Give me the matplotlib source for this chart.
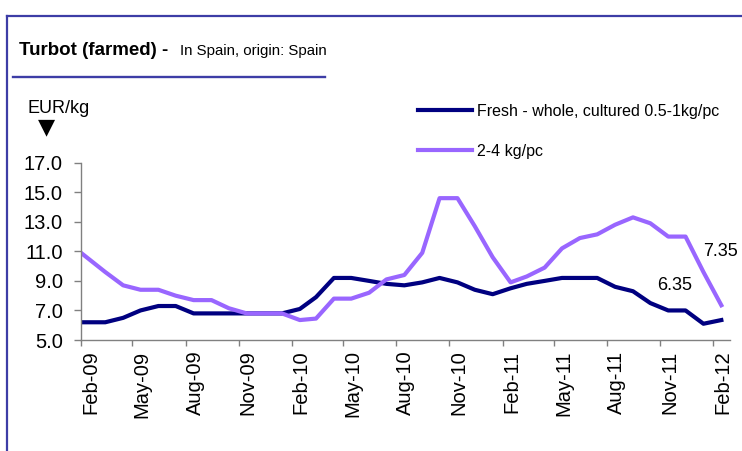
import numpy as np
import pandas as pd
import matplotlib
matplotlib.use('Agg')
import matplotlib.pyplot as plt
import matplotlib.dates as mdates
from matplotlib.lines import Line2D
from matplotlib.ticker import FormatStrFormatter
from matplotlib import font_manager

plt.rcParams['font.family'] = ['Liberation Sans', 'DejaVu Sans']

# first point at the start of Feb-09, the rest mid-month
dates = [pd.Timestamp('2009-02-01')] + list(
    pd.date_range('2009-03-01', '2012-02-01', freq='MS') + pd.Timedelta(days=14))

fresh = [6.2, 6.2, 6.5, 7.0, 7.3, 7.3, 6.8, 6.8, 6.8, 6.8, 6.8, 6.8, 7.1,
         7.9, 9.2, 9.2, 9.0, 8.8, 8.7, 8.9, 9.2, 8.9, 8.4, 8.1, 8.5, 8.8,
         9.0, 9.2, 9.2, 9.2, 8.6, 8.3, 7.5, 7.0, 7.0, 6.1, 6.35]
large = [10.9, 9.6, 8.7, 8.4, 8.4, 8.0, 7.7, 7.7, 7.15, 6.8, 6.8, 6.8, 6.35,
         6.45, 7.8, 7.8, 8.2, 9.1, 9.4, 10.9, 14.6, 14.6, 12.7, 10.6, 8.9, 9.3,
         9.9, 11.2, 11.9, 12.15, 12.8, 13.3, 12.9, 12.0, 12.0, 9.6, 7.35]
labels = ['Fresh - whole, cultured 0.5-1kg/pc', '2-4 kg/pc']

names = {f.name for f in font_manager.fontManager.ttflist}
if 'Liberation Sans Narrow' in names:
    title_font = 'Liberation Sans Narrow'
    t_size, s_size = 16.5, 13
else:
    title_font = 'Liberation Sans'
    t_size, s_size = 13.5, 10.8

W, H = 742, 451
fig = plt.figure(figsize=(W / 100, H / 100), dpi=100)
ax = fig.add_axes([81 / W, 1 - 340 / H, (730 - 81) / W, (340 - 162.7) / H])

ax.plot(dates, fresh, color='#000080', lw=3, label=labels[0])
ax.plot(dates, large, color='#9966ff', lw=3, label=labels[1])

ax.set_ylim(5, 17)
ax.set_yticks(np.arange(5, 17.1, 2))
ax.yaxis.set_major_formatter(FormatStrFormatter('%.1f'))
ax.set_xlim(pd.Timestamp('2009-02-01'), pd.Timestamp('2012-03-01'))
ax.xaxis.set_major_locator(mdates.MonthLocator(bymonth=[2, 5, 8, 11]))
ax.xaxis.set_major_formatter(mdates.DateFormatter('%b-%y'))

for s in ['top', 'right']:
    ax.spines[s].set_visible(False)
for s in ['left', 'bottom']:
    ax.spines[s].set_color('#808080')
    ax.spines[s].set_linewidth(1)

ax.tick_params(axis='y', length=5, width=1, color='#808080', pad=8, labelsize=14.5)
ax.tick_params(axis='x', length=4.5, width=1, color='#808080', pad=3, labelsize=14.5,
               labelrotation=90)
plt.setp(ax.get_xticklabels(), ha='left', va='top')

ax.legend(loc='upper left', bbox_to_anchor=(418 / W, 1 - 104 / H),
          bbox_transform=fig.transFigure, frameon=False, fontsize=11.5,
          handlelength=3.4, handletextpad=0.3, labelspacing=1.55,
          borderpad=0, borderaxespad=0)

ax.annotate('%.2f' % large[-1], xy=(dates[-1], large[-1]), xytext=(-1, 54),
            textcoords='offset pixels', ha='center', va='center', fontsize=13)
ax.annotate('%.2f' % fresh[-1], xy=(dates[-1], fresh[-1]), xytext=(-47, 35),
            textcoords='offset pixels', ha='center', va='center', fontsize=13)

fig.text(27 / W, 1 - 108.5 / H, 'EUR/kg', fontsize=13, va='center', ha='left')
fig.text(47 / W, 1 - 127.5 / H, '\u25bc', fontsize=16, va='center', ha='center',
         family='DejaVu Sans')

fig.text(19 / W, 1 - 55 / H, 'Turbot (farmed) -', fontsize=t_size,
         fontweight='bold', va='baseline', family=title_font)
fig.text(180 / W, 1 - 55 / H, 'In Spain, origin: Spain', fontsize=s_size,
         va='baseline', family=title_font)

frame_c = '#3d3da6'
fig.add_artist(Line2D([7 / W, 1], [1 - 16 / H] * 2, color=frame_c, lw=1.6))
fig.add_artist(Line2D([7 / W] * 2, [0, 1 - 16 / H], color=frame_c, lw=1.6))
fig.add_artist(Line2D([13 / W, 325 / W], [1 - 77 / H] * 2, color=frame_c, lw=1.7))

fig.savefig('out.png', dpi=100)
